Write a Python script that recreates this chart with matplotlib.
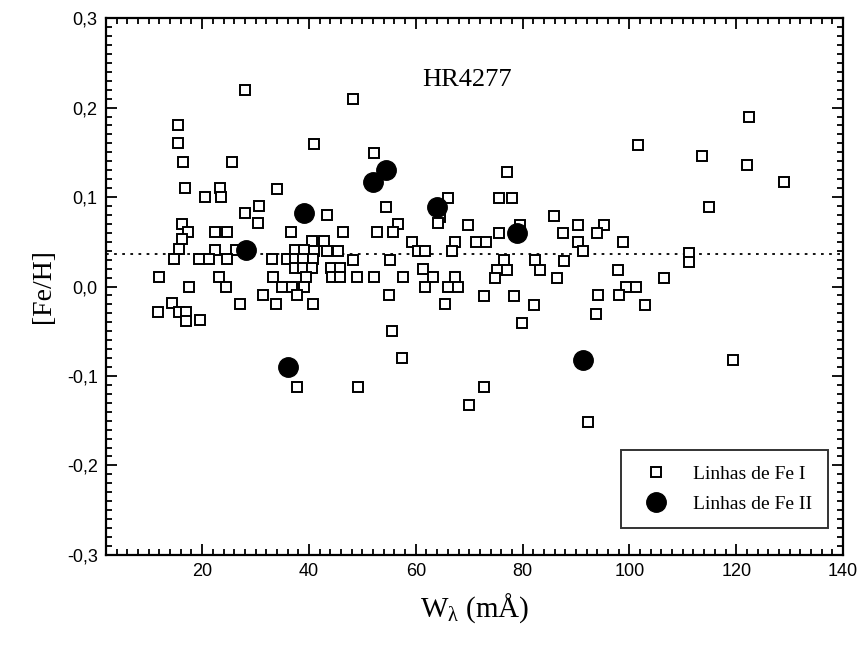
import numpy as np
import matplotlib
matplotlib.use("Agg")
import matplotlib.pyplot as plt
from matplotlib.ticker import MultipleLocator, FuncFormatter

# Fe I lines: equivalent width (mA) and [Fe/H]
fe1_w = [28.0, 48.2, 15.5, 15.5, 40.9, 101.6, 52.1, 113.6, 16.4, 25.5,
         122.1, 77.1, 122.4, 129.0, 16.8, 23.4, 34.1, 20.6, 23.6, 66.0,
         75.5, 78.1, 30.7, 54.4, 114.9, 28.1, 43.3, 64.5, 85.8, 16.2,
         30.5, 56.7, 64.2, 69.8, 79.6, 90.3, 95.2, 17.4, 22.4, 24.7,
         36.7, 46.3, 52.7, 55.7, 75.5, 87.5, 93.9, 16.2, 40.5, 42.9,
         59.3, 67.4, 71.3, 73.2, 90.3, 98.8, 15.7, 22.4, 26.4, 37.3,
         39.0, 41.0, 43.3, 45.4, 60.4, 61.7, 66.8, 91.4, 111.2, 14.8,
         19.4, 21.3, 24.7, 33.0, 35.8, 37.3, 38.8, 40.7, 48.2, 55.2,
         76.5, 82.4, 87.7, 111.2, 37.3, 38.8, 40.5, 44.2, 45.8, 61.4,
         75.3, 77.1, 83.2, 97.8, 11.9, 23.2, 33.2, 39.5, 44.4, 45.8,
         49.0, 52.1, 57.6, 63.2, 67.4, 74.9, 86.5, 106.5, 17.6, 24.5,
         34.9, 36.9, 39.0, 61.7, 66.0, 67.9, 99.3, 101.2, 31.3, 37.7,
         55.0, 72.8, 78.3, 94.1, 98.0, 14.4, 27.0, 33.9, 40.7, 65.5,
         82.2, 102.9, 11.7, 15.7, 17.0, 93.7, 17.0, 19.6, 79.8, 55.5,
         57.4, 119.4, 37.7, 49.1, 72.8, 70.0, 92.2]
fe1_feh = [0.220, 0.210, 0.180, 0.160, 0.159, 0.158, 0.149, 0.146, 0.139, 0.139,
           0.136, 0.128, 0.189, 0.117, 0.110, 0.110, 0.109, 0.100, 0.100, 0.099,
           0.099, 0.099, 0.090, 0.089, 0.089, 0.082, 0.080, 0.078, 0.079, 0.070,
           0.071, 0.070, 0.071, 0.069, 0.069, 0.069, 0.069, 0.061, 0.061, 0.061,
           0.061, 0.061, 0.061, 0.061, 0.060, 0.060, 0.060, 0.053, 0.051, 0.051,
           0.050, 0.050, 0.050, 0.050, 0.050, 0.050, 0.042, 0.041, 0.041, 0.041,
           0.041, 0.040, 0.040, 0.040, 0.040, 0.040, 0.040, 0.040, 0.038, 0.031,
           0.031, 0.031, 0.031, 0.031, 0.031, 0.031, 0.031, 0.031, 0.030, 0.030,
           0.030, 0.030, 0.028, 0.027, 0.021, 0.021, 0.021, 0.021, 0.021, 0.020,
           0.019, 0.019, 0.019, 0.019, 0.011, 0.011, 0.011, 0.011, 0.011, 0.011,
           0.011, 0.011, 0.011, 0.011, 0.011, 0.010, 0.010, 0.010, 0.000, 0.000,
           0.000, 0.000, 0.000, 0.000, 0.000, 0.000, -0.001, -0.001, -0.009, -0.010,
           -0.010, -0.011, -0.011, -0.010, -0.010, -0.018, -0.019, -0.019, -0.019, -0.020,
           -0.021, -0.021, -0.028, -0.028, -0.029, -0.031, -0.039, -0.038, -0.041, -0.050,
           -0.080, -0.082, -0.112, -0.112, -0.112, -0.132, -0.152]

# Fe II lines
fe2_w = [28.2, 36.0, 39.0, 52.0, 54.4, 64.0, 79.0, 91.4]
fe2_feh = [0.041, -0.090, 0.082, 0.117, 0.130, 0.089, 0.060, -0.082]

mean_feh = 0.036

serif = ['Liberation Serif', 'DejaVu Serif']
sans = ['Liberation Sans', 'DejaVu Sans']
plt.rcParams['font.family'] = sans
plt.rcParams['mathtext.fontset'] = 'custom'
plt.rcParams['mathtext.rm'] = 'Liberation Serif'
plt.rcParams['mathtext.it'] = 'Liberation Serif'

fig = plt.figure(figsize=(8.62, 6.46), dpi=100)
ax = fig.add_axes([0.123, 0.141, 0.855, 0.831])

ax.plot(fe1_w, fe1_feh, 's', ms=7.5, mfc='white', mec='black', mew=1.4,
        ls='none', label='Linhas de Fe I', zorder=3)
ax.plot(fe2_w, fe2_feh, 'o', ms=14, mfc='black', mec='black',
        ls='none', label='Linhas de Fe II', zorder=4)
ax.axhline(mean_feh, color='black', ls=(0, (1.5, 3)), lw=1.3, zorder=2)

ax.set_xlim(2, 140)
ax.set_ylim(-0.3, 0.3)
ax.xaxis.set_major_locator(MultipleLocator(20))
ax.xaxis.set_minor_locator(MultipleLocator(2))
ax.yaxis.set_major_locator(MultipleLocator(0.1))
ax.yaxis.set_minor_locator(MultipleLocator(0.01))
ax.yaxis.set_major_formatter(FuncFormatter(lambda v, p: ('%.1f' % v).replace('.', ',').replace('-0,0', '0,0')))
ax.tick_params(which='both', direction='in', top=True, right=True, width=1.3, colors='black')
ax.tick_params(which='major', length=8, labelsize=13, pad=6)
ax.tick_params(which='minor', length=4)
for s in ax.spines.values():
    s.set_linewidth(1.6)

ax.text(0.49, 0.885, 'HR4277', transform=ax.transAxes, ha='center', va='center',
        fontsize=19, family=serif)
ax.set_ylabel('[Fe/H]', fontsize=20, family=serif, labelpad=8)
ax.set_xlabel(r'W$_{\lambda}$ (mÅ)', fontsize=21, family=serif, labelpad=8)

leg = ax.legend(loc='lower right', bbox_to_anchor=(0.979, 0.05), borderaxespad=0,
                prop={'family': serif, 'size': 14}, frameon=True, fancybox=False,
                edgecolor='black', borderpad=0.8, handletextpad=0.9, labelspacing=0.6)
leg.get_frame().set_linewidth(1.4)

fig.savefig('out.png', dpi=100)
